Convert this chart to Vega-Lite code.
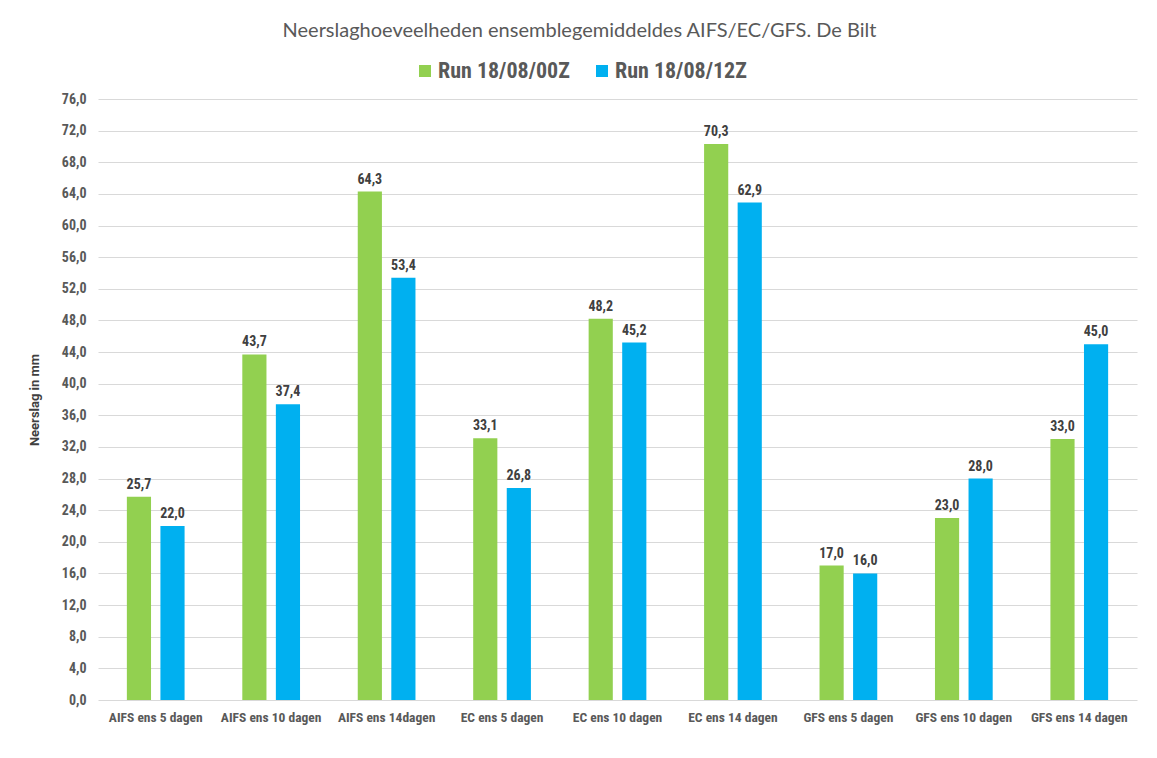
{
  "$schema": "https://vega.github.io/schema/vega-lite/v6.json",
  "autosize": {"type": "none"},
  "padding": {"left": 98, "top": 99, "right": 20, "bottom": 58},
  "width": 1039,
  "height": 601,
  "background": "white",
  "title": {
    "text": "Neerslaghoeveelheden ensemblegemiddeldes AIFS/EC/GFS. De Bilt",
    "anchor": "middle",
    "font": "Lato",
    "fontSize": 20,
    "fontWeight": "normal",
    "color": "#595959",
    "offset": 19,
    "dx": -38
  },
  "data": {
    "values": [
      {"model": "AIFS ens 5 dagen", "run": "Run 18/08/00Z", "mm": 25.7},
      {"model": "AIFS ens 5 dagen", "run": "Run 18/08/12Z", "mm": 22.0},
      {"model": "AIFS ens 10 dagen", "run": "Run 18/08/00Z", "mm": 43.7},
      {"model": "AIFS ens 10 dagen", "run": "Run 18/08/12Z", "mm": 37.4},
      {"model": "AIFS ens 14dagen", "run": "Run 18/08/00Z", "mm": 64.3},
      {"model": "AIFS ens 14dagen", "run": "Run 18/08/12Z", "mm": 53.4},
      {"model": "EC ens 5 dagen", "run": "Run 18/08/00Z", "mm": 33.1},
      {"model": "EC ens 5 dagen", "run": "Run 18/08/12Z", "mm": 26.8},
      {"model": "EC ens 10 dagen", "run": "Run 18/08/00Z", "mm": 48.2},
      {"model": "EC ens 10 dagen", "run": "Run 18/08/12Z", "mm": 45.2},
      {"model": "EC ens 14 dagen", "run": "Run 18/08/00Z", "mm": 70.3},
      {"model": "EC ens 14 dagen", "run": "Run 18/08/12Z", "mm": 62.9},
      {"model": "GFS ens 5 dagen", "run": "Run 18/08/00Z", "mm": 17.0},
      {"model": "GFS ens 5 dagen", "run": "Run 18/08/12Z", "mm": 16.0},
      {"model": "GFS ens 10 dagen", "run": "Run 18/08/00Z", "mm": 23.0},
      {"model": "GFS ens 10 dagen", "run": "Run 18/08/12Z", "mm": 28.0},
      {"model": "GFS ens 14 dagen", "run": "Run 18/08/00Z", "mm": 33.0},
      {"model": "GFS ens 14 dagen", "run": "Run 18/08/12Z", "mm": 45.0}
    ]
  },
  "encoding": {
    "x": {
      "field": "model",
      "type": "nominal",
      "sort": null,
      "title": null,
      "scale": {"paddingInner": 0.5, "paddingOuter": 0.25},
      "axis": {
        "labelAngle": 0,
        "labelPadding": 10,
        "labelFontSize": 13.5,
        "ticks": false,
        "domain": false,
        "grid": false
      }
    },
    "xOffset": {
      "field": "run",
      "type": "nominal",
      "scale": {"paddingInner": 0.28}
    },
    "y": {
      "field": "mm",
      "type": "quantitative",
      "title": "Neerslag in mm",
      "scale": {"domain": [0, 76], "nice": false},
      "axis": {
        "values": [0, 4, 8, 12, 16, 20, 24, 28, 32, 36, 40, 44, 48, 52, 56, 60, 64, 68, 72, 76],
        "format": ".1f",
        "ticks": false,
        "domain": false,
        "labelFontSize": 14,
        "labelPadding": 12,
        "titleFont": "Roboto",
        "titleFontSize": 13,
        "titlePadding": 20
      }
    },
    "color": {
      "field": "run",
      "type": "nominal",
      "title": null,
      "scale": {"domain": ["Run 18/08/00Z", "Run 18/08/12Z"], "range": ["#92D050", "#00B0F0"]},
      "legend": {
        "orient": "none",
        "direction": "horizontal",
        "legendX": 316,
        "legendY": -39,
        "symbolType": "square",
        "symbolSize": 144,
        "symbolStrokeWidth": 0,
        "symbolOpacity": 1,
        "labelOffset": 2,
        "columnPadding": 21,
        "labelFontSize": 22,
        "labelFontWeight": "bold",
        "labelColor": "#595959",
        "labelFont": "Liberation Sans Narrow, Roboto Condensed, Liberation Sans"
      }
    }
  },
  "layer": [
    {"mark": {"type": "bar", "opacity": 1}},
    {
      "mark": {
        "type": "text",
        "dy": -12,
        "fontSize": 14,
        "fontWeight": "bold",
        "color": "#404040",
        "font": "Liberation Sans Narrow, Roboto Condensed, Liberation Sans"
      },
      "encoding": {
        "text": {"field": "mm", "type": "quantitative", "format": ".1f"},
        "color": {"value": "#404040"}
      }
    }
  ],
  "config": {
    "locale": {
      "number": {"decimal": ",", "thousands": ".", "grouping": [3], "currency": ["€", ""]}
    },
    "view": {"stroke": null},
    "axis": {
      "labelFont": "Liberation Sans Narrow, Roboto Condensed, Liberation Sans",
      "labelFontWeight": "bold",
      "labelColor": "#595959",
      "titleFont": "Liberation Sans Narrow, Roboto Condensed, Liberation Sans",
      "titleFontSize": 13,
      "titleFontWeight": "bold",
      "titleColor": "#404040",
      "gridColor": "#D9D9D9",
      "gridWidth": 1
    }
  }
}
